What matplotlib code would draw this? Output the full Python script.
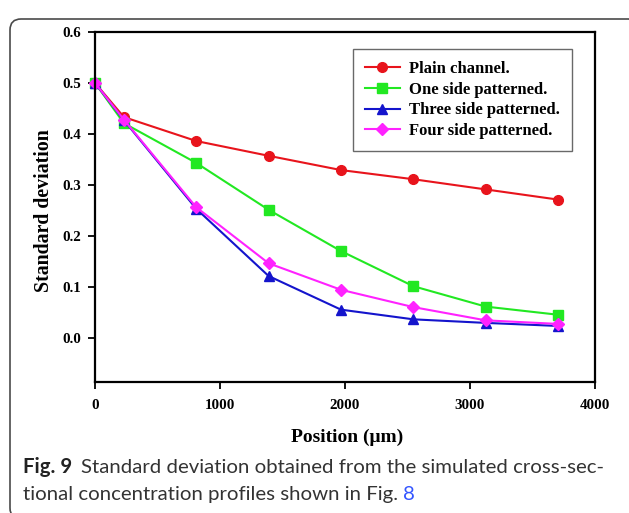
import matplotlib
matplotlib.use("Agg")
import matplotlib.pyplot as plt
from matplotlib.patches import FancyBboxPatch
from matplotlib.transforms import IdentityTransform

# values
position = [0, 231, 810, 1389, 1968, 2547, 3126, 3705]
plain = [0.500, 0.433, 0.386, 0.357, 0.329, 0.311, 0.291, 0.271]
one_side = [0.500, 0.421, 0.343, 0.251, 0.170, 0.101, 0.061, 0.045]
three_side = [0.500, 0.427, 0.253, 0.121, 0.055, 0.036, 0.029, 0.023]
four_side = [0.500, 0.428, 0.256, 0.146, 0.094, 0.060, 0.034, 0.027]
series_labels = ["Plain channel.", "One side patterned.",
                 "Three side patterned.", "Four side patterned."]
y_ticks = [0.0, 0.1, 0.2, 0.3, 0.4, 0.5, 0.6]
x_ticks = [0, 1000, 2000, 3000, 4000]

SERIF = "Liberation Serif"
CAP = "Lato"
W, H = 629, 513

fig = plt.figure(figsize=(W / 100, H / 100), dpi=100)

# rounded frame around the figure panel (cut off at right/bottom)
frame = FancyBboxPatch((10, -6), 630, 508 - 10 + 2,
                       boxstyle="round,pad=0,rounding_size=11",
                       transform=IdentityTransform(), fill=False,
                       edgecolor="#4a4a4a", linewidth=1.2)
fig.patches.append(frame)

ax = fig.add_axes([95 / W, 1 - 382 / H, 500 / W, 350 / H])
styles = [("#E8141C", "o", 7.0), ("#22E822", "s", 6.5),
          ("#1414CC", "^", 7.0), ("#FF22FF", "D", 6.3)]
for ys, lab, (c, m, ms) in zip([plain, one_side, three_side, four_side],
                               series_labels, styles):
    ax.plot(position, ys, color=c, marker=m, ms=ms, lw=1.5, label=lab,
            clip_on=False)

ax.set_xlim(0, 4000)
ax.set_ylim(-0.087, 0.6)
ax.set_xticks(x_ticks)
ax.set_xticklabels([str(v) for v in x_ticks])
ax.set_yticks(y_ticks)
ax.set_yticklabels([f"{v:.1f}" for v in y_ticks])
for s in ax.spines.values():
    s.set_linewidth(1.6)
ax.tick_params(direction="out", length=5, width=1.3, top=False, right=False)
ax.tick_params(axis="x", pad=7)
ax.tick_params(axis="y", pad=5)
for t in ax.get_xticklabels() + ax.get_yticklabels():
    t.set_fontfamily(SERIF)
    t.set_fontweight("bold")
    t.set_fontsize(10.8)

leg = ax.legend(loc="upper right", bbox_to_anchor=(0.954, 0.952),
                borderaxespad=0, numpoints=1, handlelength=2.1,
                handletextpad=0.55, labelspacing=0.29, borderpad=0.72,
                fancybox=False,
                prop={"family": SERIF, "weight": "bold", "size": 12})
leg.get_frame().set_edgecolor("#444444")
leg.get_frame().set_linewidth(1.0)

fig.text(347 / W, 1 - 437 / H, "Position (\u03bcm)", family=SERIF,
         weight="bold", size=14, ha="center", va="center")
fig.text(44 / W, 1 - 211 / H, "Standard deviation", family=SERIF,
         weight="bold", size=14.3, ha="center", va="center", rotation=90)

# caption: bold "Fig. 9", regular text, blue "8"
r = fig.canvas.get_renderer()
csize = 14.7
y1, y2 = 1 - 473 / H, 1 - 500 / H
t0 = fig.text(23 / W, y1, "Fig. 9", family=CAP, weight="bold", size=csize,
              color="#222222", va="baseline")
x_end = t0.get_window_extent(r).x1
fig.text((x_end + 9) / W, y1,
         "Standard deviation obtained from the simulated cross-sec-",
         family=CAP, size=csize, color="#333333", va="baseline")
t2 = fig.text(23 / W, y2, "tional concentration profiles shown in Fig. ",
              family=CAP, size=csize, color="#333333", va="baseline")
x_end = t2.get_window_extent(r).x1
fig.text(x_end / W, y2, "8", family=CAP, size=csize, color="#3355FF",
         va="baseline")

fig.savefig("out.png", dpi=100)
